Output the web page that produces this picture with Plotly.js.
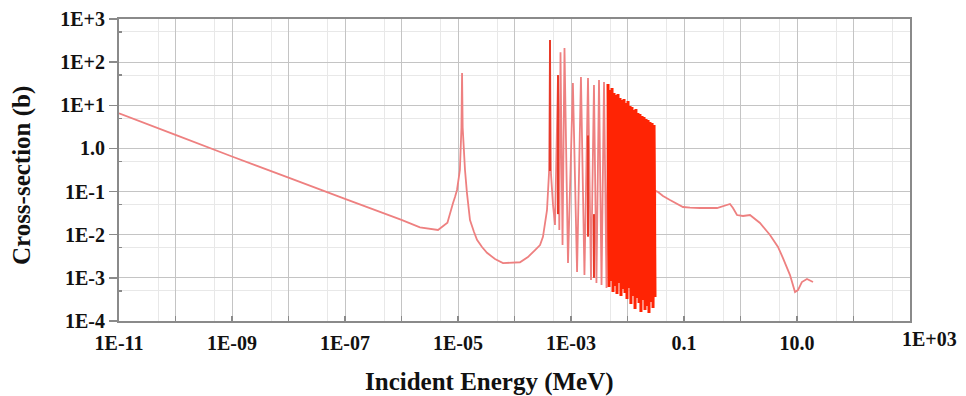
<!DOCTYPE html>
<html>
<head>
<meta charset="utf-8">
<script src="https://cdn.plot.ly/plotly-3.0.1.min.js"></script>
<style>
  html, body { margin: 0; padding: 0; background: #ffffff; }
  #chart { width: 966px; height: 396px; }
</style>
</head>
<body>
<div id="chart"></div>
<script>
// ---- Data (Incident energy in MeV, cross-section in barns) ----
// Thermal / 1/v region and first resonance near 11.7 eV
const thermalE = [1e-11, 1e-10, 1e-9, 1e-8, 1e-7, 1e-6, 2.12e-6, 4.43e-6, 6.5e-6, 8.17e-6, 8.85e-6, 9.6e-6,
  1.08e-5, 1.15e-5, 1.18e-5, 1.21e-5, 1.33e-5, 1.44e-5, 1.63e-5, 1.92e-5, 2.17e-5, 2.66e-5, 3.26e-5,
  4.52e-5, 6.25e-5, 1.25e-4, 1.73e-4, 2.31e-4, 2.83e-4, 3.19e-4, 3.76e-4, 4.08e-4];
const thermalS = [6.5, 2.06, 0.65, 0.21, 0.068, 0.022, 0.0148, 0.0129, 0.019, 0.0543, 0.0748, 0.109,
  0.316, 3.0, 56, 3.0, 0.316, 0.093, 0.0219, 0.01156, 0.0076, 0.00519, 0.0038,
  0.00274, 0.0022, 0.0023, 0.00304, 0.0044, 0.00577, 0.0089, 0.037, 0.27];

// Resolved resonances (sparse part)
const sparseE = [4.25e-4, 4.43e-4, 4.80e-4, 5.21e-4, 5.89e-4, 6.21e-4, 6.52e-4, 7.08e-4, 7.67e-4, 8.85e-4,
  1.08e-3, 1.28e-3, 1.50e-3, 1.73e-3, 2.00e-3, 2.26e-3, 2.55e-3, 2.82e-3, 3.13e-3, 3.47e-3, 3.84e-3, 4.25e-3];
const sparseS = [326, 0.25, 0.05, 0.0168, 50, 0.0128, 170, 0.0058, 213, 0.0022,
  32.8, 0.00136, 45, 0.00116, 43, 0.00089, 29.5, 0.00076, 38.5, 0.00068, 34.7, 0.00058];

// Resolved resonances (dense part): alternating peak / valley
const denseE = [4.52e-3, 4.71e-3, 4.90e-3, 5.11e-3, 5.32e-3, 5.54e-3, 5.77e-3, 6.01e-3, 6.26e-3, 6.52e-3,
  6.79e-3, 7.07e-3, 7.37e-3, 7.67e-3, 8.00e-3, 8.33e-3, 8.67e-3, 9.03e-3, 9.41e-3, 9.80e-3,
  1.02e-2, 1.06e-2, 1.11e-2, 1.15e-2, 1.20e-2, 1.25e-2, 1.30e-2, 1.36e-2, 1.41e-2, 1.47e-2,
  1.53e-2, 1.60e-2, 1.66e-2, 1.73e-2, 1.81e-2, 1.88e-2, 1.96e-2, 2.04e-2, 2.13e-2, 2.21e-2,
  2.31e-2, 2.40e-2, 2.50e-2, 2.61e-2, 2.72e-2, 2.83e-2, 2.95e-2, 3.07e-2];
const denseS = [31.1, 6.13e-4, 22.6, 8.45e-4, 25.2, 4.70e-4, 19.3, 6.47e-4, 17.3, 4.22e-4,
  18.3, 7.59e-4, 14.8, 3.79e-4, 13.3, 5.51e-4, 14.0, 4.45e-4, 11.3, 3.23e-4,
  12.6, 5.81e-4, 9.62, 2.47e-4, 9.12, 3.79e-4, 7.78, 1.89e-4, 8.2, 3.41e-4,
  6.62, 2.61e-4, 6.28, 1.62e-4, 5.64, 3.06e-4, 5.35, 1.80e-4, 4.81, 2.22e-4,
  4.56, 1.53e-4, 4.10, 2.75e-4, 3.88, 2.00e-4, 3.49, 3.60e-4];

// Fast / continuum region
const fastE = [3.1e-2, 3.47e-2, 4.25e-2, 5.65e-2, 9.59e-2, 0.128, 0.192, 0.384, 0.652, 0.736, 0.867, 1.107,
  1.472, 2.213, 3.327, 4.61, 5.65, 7.52, 9.22, 10.4, 12.2, 15.0, 19.2];
const fastS = [0.105, 0.0977, 0.0789, 0.0637, 0.0439, 0.0425, 0.0416, 0.0416, 0.0515, 0.0416, 0.0286, 0.0272,
  0.0286, 0.0187, 0.00984, 0.00519, 0.00288, 0.00116, 0.00047, 0.00052, 0.0008, 0.00094, 0.0008];

// Darker (overlapping) segments of a few isolated resonances
const redE = [4.25e-4, 4.25e-4, null, 5.89e-4, 5.89e-4, null, 2.00e-3, 2.00e-3, null, 2.55e-3, 2.55e-3];
const redS = [326, 0.3, null, 50, 0.03, null, 2.0, 0.009, null, 0.03, 0.001];

// Axis ticks
const xTickVals = [1e-11, 1e-10, 1e-9, 1e-8, 1e-7, 1e-6, 1e-5, 1e-4, 1e-3, 1e-2, 1e-1, 1, 10, 100, 1000];
const xTickText = ['1E-11', '', '1E-09', '', '1E-07', '', '1E-05', '', '1E-03', '', '0.1', '', '10.0', '', ''];
const xLastLabel = '1E+03';
const xMinorVals = [5e-11, 5e-10, 5e-9, 5e-8, 5e-7, 5e-6, 5e-5, 5e-4, 5e-3, 5e-2, 0.5, 5, 50, 500];
const yTickVals = [1e-4, 1e-3, 1e-2, 1e-1, 1, 10, 100, 1000];
const yTickText = ['1E-4', '1E-3', '1E-2', '1E-1', '1.0', '1E+1', '1E+2', '1E+3'];
const yMinorVals = [5e-4, 5e-3, 5e-2, 0.5, 5, 50, 500];

const xTitle = 'Incident Energy (MeV)';
const yTitle = 'Cross-section (b)';

// ---- Build traces ----
const allE = thermalE.concat(sparseE, denseE, fastE);
const allS = thermalS.concat(sparseS, denseS, fastS);

const pink = 'rgb(238,128,128)';
const red = 'rgb(255,36,4)';

const traces = [
  { x: allE, y: allS, type: 'scatter', mode: 'lines',
    line: { color: pink, width: 1.8, simplify: false }, hoverinfo: 'skip' },
  { x: redE, y: redS, type: 'scatter', mode: 'lines', connectgaps: false,
    line: { color: 'rgb(232,58,40)', width: 2, simplify: false }, hoverinfo: 'skip' },
  { x: denseE, y: denseS, type: 'scatter', mode: 'lines',
    line: { color: red, width: 3, simplify: false }, hoverinfo: 'skip' }
];

const serif = 'Liberation Serif, Times New Roman, serif';
const tickFont = { family: serif, size: 20, color: '#111', weight: 'bold' };
const axisBase = {
  type: 'log', showline: true, mirror: true, linecolor: '#8a8a8a', linewidth: 2,
  showgrid: true, gridcolor: '#c4c4c4', gridwidth: 1, zeroline: false,
  tickcolor: '#8a8a8a', tickwidth: 1.5, tickfont: tickFont, fixedrange: true,
  tickmode: 'array'
};

const layout = {
  width: 966, height: 396,
  margin: { l: 119, r: 56, t: 19, b: 75 },
  paper_bgcolor: '#ffffff', plot_bgcolor: '#ffffff',
  showlegend: false,
  xaxis: Object.assign({}, axisBase, {
    range: [-11, 3], tickvals: xTickVals, ticktext: xTickText,
    ticks: 'inside', ticklen: 5, ticklabelstandoff: 3,
    minor: { tickvals: xMinorVals, showgrid: true, gridcolor: '#e8e8e8', gridwidth: 1, ticks: '' }
  }),
  yaxis: Object.assign({}, axisBase, {
    range: [-4, 3], tickvals: yTickVals, ticktext: yTickText,
    ticks: 'outside', ticklen: 8,
    minor: { tickvals: yMinorVals, showgrid: true, gridcolor: '#e8e8e8', gridwidth: 1,
             ticks: 'inside', ticklen: 3, tickcolor: '#8a8a8a', tickwidth: 1.5 }
  }),
  annotations: [
    { text: xTitle, xref: 'paper', yref: 'paper', x: 0.469, y: -0.203,
      xanchor: 'center', yanchor: 'middle', showarrow: false,
      font: { family: serif, size: 25, color: '#111', weight: 'bold' } },
    { text: yTitle, xref: 'paper', yref: 'paper', x: -0.1226, y: 0.48, textangle: -90,
      xanchor: 'center', yanchor: 'middle', showarrow: false,
      font: { family: serif, size: 25, color: '#111', weight: 'bold' } },
    { text: xLastLabel, xref: 'paper', yref: 'paper', x: 1, xshift: 19, y: -0.0596,
      xanchor: 'center', yanchor: 'middle', showarrow: false, font: tickFont }
  ]
};

Plotly.newPlot('chart', traces, layout, { staticPlot: true, displayModeBar: false });
</script>
</body>
</html>
